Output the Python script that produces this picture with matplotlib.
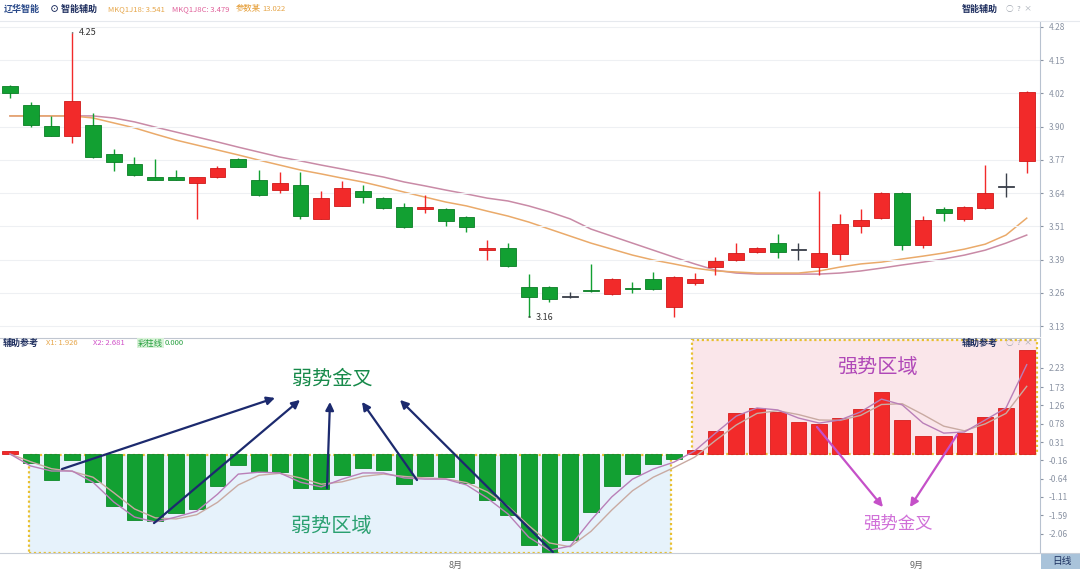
import matplotlib.pyplot as plt
import matplotlib.patches as mpatches
import numpy as np

plt.rcParams['font.family'] = ['Noto Sans CJK SC', 'DejaVu Sans']

# daily candles (price)
opens = [4.053, 3.980, 3.899, 3.861, 3.903, 3.792, 3.753, 3.703, 3.703, 3.680,
         3.703, 3.772, 3.692, 3.653, 3.672, 3.542, 3.592, 3.649, 3.622, 3.588,
         3.580, 3.580, 3.549, 3.422, 3.430, 3.280, 3.280, 3.243, 3.268, 3.253,
         3.276, 3.311, 3.203, 3.296, 3.357, 3.384, 3.415, 3.449, 3.422, 3.357,
         3.407, 3.515, 3.545, 3.642, 3.442, 3.580, 3.542, 3.584, 3.665, 3.765]
closes = [4.026, 3.903, 3.861, 3.995, 3.780, 3.761, 3.711, 3.692, 3.692, 3.703,
          3.738, 3.742, 3.634, 3.680, 3.553, 3.622, 3.661, 3.626, 3.584, 3.511,
          3.588, 3.534, 3.511, 3.430, 3.361, 3.242, 3.234, 3.243, 3.265, 3.311,
          3.272, 3.272, 3.319, 3.311, 3.380, 3.411, 3.430, 3.415, 3.422, 3.411,
          3.522, 3.538, 3.642, 3.442, 3.538, 3.565, 3.588, 3.642, 3.665, 4.030]
highs = [4.057, 3.992, 3.938, 4.257, 3.949, 3.811, 3.780, 3.772, 3.730, 3.705,
         3.745, 3.775, 3.730, 3.722, 3.722, 3.649, 3.688, 3.672, 3.625, 3.603,
         3.634, 3.585, 3.552, 3.461, 3.449, 3.330, 3.283, 3.261, 3.369, 3.314,
         3.299, 3.338, 3.322, 3.334, 3.395, 3.449, 3.434, 3.484, 3.449, 3.649,
         3.561, 3.580, 3.645, 3.645, 3.555, 3.588, 3.590, 3.749, 3.718, 4.032]
lows = [4.007, 3.895, 3.861, 3.834, 3.776, 3.726, 3.707, 3.690, 3.690, 3.542,
        3.700, 3.740, 3.630, 3.642, 3.542, 3.540, 3.590, 3.603, 3.580, 3.508,
        3.565, 3.515, 3.492, 3.384, 3.358, 3.165, 3.222, 3.238, 3.262, 3.250,
        3.257, 3.270, 3.165, 3.288, 3.326, 3.382, 3.412, 3.392, 3.384, 3.326,
        3.384, 3.488, 3.542, 3.422, 3.430, 3.534, 3.534, 3.580, 3.626, 3.718]

# two average lines on the price panel
ma_slow = [3.938, 3.938, 3.938, 3.938, 3.938, 3.930, 3.915, 3.895, 3.876, 3.857,
           3.838, 3.818, 3.799, 3.780, 3.765, 3.749, 3.734, 3.718, 3.703, 3.684,
           3.669, 3.653, 3.638, 3.622, 3.611, 3.592, 3.569, 3.542, 3.503, 3.476,
           3.449, 3.422, 3.395, 3.369, 3.345, 3.334, 3.330, 3.330, 3.330, 3.330,
           3.334, 3.342, 3.353, 3.365, 3.376, 3.388, 3.403, 3.422, 3.449, 3.480]
ma_fast = [3.938, 3.938, 3.938, 3.938, 3.930, 3.911, 3.892, 3.868, 3.845, 3.826,
           3.807, 3.788, 3.768, 3.749, 3.730, 3.715, 3.699, 3.684, 3.665, 3.645,
           3.626, 3.607, 3.592, 3.572, 3.553, 3.530, 3.503, 3.476, 3.449, 3.426,
           3.403, 3.384, 3.369, 3.353, 3.342, 3.338, 3.334, 3.334, 3.334, 3.342,
           3.357, 3.369, 3.376, 3.388, 3.399, 3.411, 3.426, 3.445, 3.480, 3.545]

# indicator panel
hist = [0.08, -0.23, -0.67, -0.16, -0.73, -1.35, -1.71, -1.74, -1.53, -1.42,
        -0.83, -0.28, -0.47, -0.47, -0.88, -0.91, -0.54, -0.36, -0.41, -0.78,
        -0.57, -0.60, -0.75, -1.19, -1.58, -2.36, -2.54, -2.23, -1.50, -0.83,
        -0.52, -0.26, -0.13, 0.10, 0.60, 1.06, 1.19, 1.09, 0.83, 0.78,
        0.93, 1.17, 1.61, 0.88, 0.47, 0.47, 0.54, 0.96, 1.19, 2.69]
sig1 = [0.0, -0.31, -0.44, -0.44, -0.73, -1.24, -1.63, -1.76, -1.63, -1.48,
        -1.04, -0.52, -0.47, -0.49, -0.73, -0.85, -0.65, -0.49, -0.49, -0.62,
        -0.65, -0.65, -0.80, -1.14, -1.55, -2.15, -2.49, -2.38, -1.71, -1.11,
        -0.65, -0.39, -0.21, 0.08, 0.54, 0.98, 1.19, 1.14, 0.93, 0.80,
        0.88, 1.09, 1.42, 1.27, 0.80, 0.54, 0.57, 0.88, 1.19, 2.31]
sig2 = [0.0, -0.20, -0.38, -0.45, -0.60, -1.00, -1.42, -1.65, -1.68, -1.57,
        -1.25, -0.80, -0.55, -0.50, -0.62, -0.78, -0.72, -0.58, -0.52, -0.58,
        -0.62, -0.64, -0.74, -0.98, -1.35, -1.85, -2.30, -2.40, -2.00, -1.45,
        -0.95, -0.60, -0.35, -0.08, 0.35, 0.75, 1.05, 1.12, 1.02, 0.88,
        0.87, 1.00, 1.28, 1.30, 1.02, 0.72, 0.60, 0.78, 1.05, 1.75]

price_ticks = np.linspace(3.13, 4.28, 10)
ind_ticks = [2.23, 1.73, 1.26, 0.78, 0.31, -0.16, -0.64, -1.11, -1.59, -2.06]
month_labels = ["8月", "9月"]
month_pos = [21.5, 43.7]

RED = "#f22a2a"
GREEN = "#12a032"
W, H = 1080, 569

fig = plt.figure(figsize=(10.8, 5.69), dpi=100)
ax1 = fig.add_axes([0, 1 - 336 / H, 1040 / W, 314 / H])
ax2 = fig.add_axes([0, 1 - 553 / H, 1040 / W, 215 / H])

x = np.arange(len(opens))
o = np.array(opens)
c = np.array(closes)
cols = [RED if cc > oo else (GREEN if cc < oo else "#3a3f4a") for oo, cc in zip(o, c)]
edge = ["#d01818" if cc > oo else ("#0a7d25" if cc < oo else "#3a3f4a") for oo, cc in zip(o, c)]

ax1.vlines(x, lows, highs, colors=cols, lw=1, zorder=2)
ax1.bar(x, np.maximum(np.abs(c - o), 0.003), bottom=np.minimum(o, c), width=0.76,
        color=cols, edgecolor=edge, lw=0.6, zorder=3)
ax1.plot(x, ma_slow, color="#c98aa6", lw=1.1, zorder=1)
ax1.plot(x, ma_fast, color="#eaaa6a", lw=1.1, zorder=1)

ax1.annotate("4.25", xy=(3, highs[3]), xytext=(3.3, highs[3]), va="center", fontsize=6.5,
             color="#333", arrowprops=dict(arrowstyle="-", lw=0.8, color="#333"))
ax1.annotate("3.16", xy=(25, lows[25]), xytext=(25.35, lows[25]), va="center", fontsize=6.5,
             color="#333", arrowprops=dict(arrowstyle="-", lw=0.8, color="#333"))

ax1.set_xlim(-0.482, 49.64)
ax1.set_ylim(3.092, 4.299)
ax1.yaxis.tick_right()
ax1.set_yticks(price_ticks)
ax1.set_yticklabels(["%.2f" % t for t in price_ticks])
ax1.set_xticks([])
ax1.tick_params(axis="y", length=2, labelsize=6, colors="#8a93a3", pad=4)
ax1.grid(axis="y", color="#eef0f3", lw=0.8)
for s in ["left", "top", "bottom"]:
    ax1.spines[s].set_visible(False)
ax1.spines["right"].set_color("#b8c2d0")

# indicator panel
hc = [RED if v > 0 else GREEN for v in hist]
he = ["#d81c1c" if v > 0 else "#0c8a28" for v in hist]
ax2.add_patch(mpatches.Rectangle((0.92, -2.56), 30.93, 2.53, facecolor="#e6f2fb",
                                 edgecolor="#e8c030", lw=1.6, ls=(0, (1, 1.2)), zorder=0))
ax2.add_patch(mpatches.Rectangle((32.87, 0.0), 16.62, 2.96, facecolor="#fae6ea",
                                 edgecolor="#e8c030", lw=1.6, ls=(0, (1, 1.2)), zorder=0))
ax2.bar(x, hist, width=0.76, color=hc, edgecolor=he, lw=0.6, zorder=2)
ax2.plot(x, sig2, color="#c9aaa2", lw=1, zorder=3)
ax2.plot(x, sig1, color="#b97fb8", lw=1, zorder=3)


def px(px_x, px_y):
    return ((px_x - 10) / 20.75, (454 - px_y) * 0.0259)


ax2.text(*px(332, 379), "弱势金叉", fontsize=14.5, color="#178a4a", ha="center", va="center")
ax2.text(*px(331, 526), "弱势区域", fontsize=14.5, color="#2aa070", ha="center", va="center")
ax2.text(*px(877, 368), "强势区域", fontsize=14.5, color="#b048b8", ha="center", va="center")
ax2.text(*px(898, 524), "强势金叉", fontsize=12.5, color="#d070d8", ha="center", va="center")

navy = [((62, 469), (275, 398)), ((154, 523), (300, 400)), ((327, 488), (330, 402)),
        ((417, 480), (362, 402)), ((553, 552), (400, 400))]
for a, b in navy:
    ax2.annotate("", xy=px(*b), xytext=px(*a),
                 arrowprops=dict(arrowstyle="-|>", color="#1c2a6e", lw=1.6, mutation_scale=12,
                                 shrinkA=0, shrinkB=0), zorder=5)
for a, b in [((817, 427), (883, 507)), ((957, 435), (910, 507))]:
    ax2.annotate("", xy=px(*b), xytext=px(*a),
                 arrowprops=dict(arrowstyle="-|>", color="#c550c8", lw=1.6, mutation_scale=12,
                                 shrinkA=0, shrinkB=0), zorder=5)

ax2.set_xlim(-0.482, 49.64)
ax2.set_ylim(-2.56, 3.0)
ax2.yaxis.tick_right()
ax2.set_yticks(ind_ticks)
ax2.set_yticklabels(["%.2f" % t for t in ind_ticks])
ax2.set_xticks([])
ax2.tick_params(axis="y", length=2, labelsize=6, colors="#8a93a3", pad=4)
for s in ["left", "bottom"]:
    ax2.spines[s].set_visible(False)
ax2.spines["top"].set_color("#c0c6d0")
ax2.spines["right"].set_color("#b8c2d0")

# header lines
fig.add_artist(plt.Line2D([0, 1], [1 - 21 / H, 1 - 21 / H], color="#e6e9ee", lw=0.8))
fig.add_artist(plt.Line2D([0, 1], [1 - 553 / H, 1 - 553 / H], color="#c8ced8", lw=0.8))


def ftext(px_x, px_y, s, **kw):
    fig.text(px_x / W, 1 - px_y / H, s, va="center", **kw)


ftext(4, 9, "辽华智能", fontsize=6.5, color="#2a4a8a", weight="bold")
ftext(50, 9, "⊙ 智能辅助", fontsize=6.5, color="#203060", weight="bold")
ftext(108, 9, "MKQ1J18: 3.541", fontsize=5.5, color="#e6a64a")
ftext(172, 9, "MKQ1J8C: 3.479", fontsize=5.5, color="#e0609a")
ftext(236, 9, "参数某", fontsize=6, color="#e49a30")
ftext(262, 9, "13.022", fontsize=5.5, color="#e6a64a")
ftext(962, 9, "智能辅助", fontsize=6.5, color="#203060", weight="bold")
ftext(1006, 9, "○  ?  ×", fontsize=5.5, color="#a0a6b0")

ftext(3, 343, "辅助参考", fontsize=6.5, color="#203060", weight="bold")
ftext(46, 343, "X1: 1.926", fontsize=5.5, color="#e6a64a")
ftext(93, 343, "X2: 2.681", fontsize=5.5, color="#d050c8")
fig.text(138 / W, 1 - 343 / H, "彩柱线", fontsize=6, color="#28a040", va="center",
         bbox=dict(boxstyle="square,pad=0.1", fc="#d8f2d8", ec="none"))
ftext(165, 343, "0.000", fontsize=5.5, color="#28a040")
ftext(962, 343, "辅助参考", fontsize=6.5, color="#203060", weight="bold")
ftext(1006, 343, "○  ?  ×", fontsize=5.5, color="#a0a6b0")

for lab, pos in zip(month_labels, month_pos):
    ax2.text(pos, -2.56, lab, transform=ax2.transData, fontsize=6.5, color="#666",
             ha="center", va="top")
    ax2.texts[-1].set_y(-2.56 - 0.2)

fig.add_artist(mpatches.Rectangle((1041 / W, 0), 39 / W, 16 / H, transform=fig.transFigure,
                                  facecolor="#a9c3da", edgecolor="none"))
ftext(1060 - 8, 561, "日线", fontsize=7, color="#1c3060")

fig.savefig("out.png", dpi=100, facecolor="white")
